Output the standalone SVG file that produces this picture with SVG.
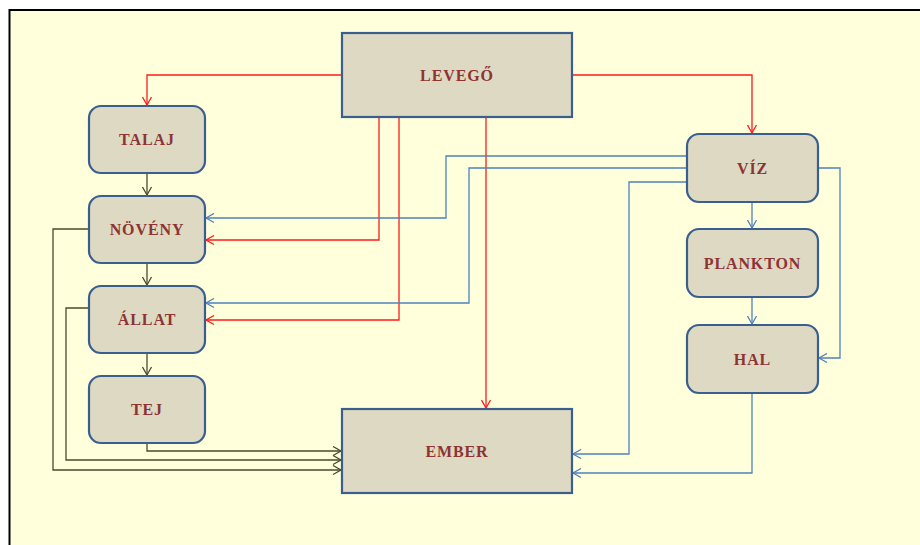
<svg xmlns="http://www.w3.org/2000/svg" width="920" height="545" viewBox="0 0 920 545">
<style>
.box{fill:#DDD9C3;stroke:#3A5F8E;stroke-width:2.2}
.lbl{font-family:"Liberation Serif","Times New Roman",serif;font-weight:bold;font-size:16px;fill:#8E3333;text-anchor:middle;letter-spacing:0.9px}
.r{fill:none;stroke:#FF1A1A;stroke-width:1.3}
.b{fill:none;stroke:#4F81BD;stroke-width:1.3}
.o{fill:none;stroke:#4A4A2E;stroke-width:1.3}
</style>
<defs>
<marker id="ar" markerWidth="11" markerHeight="11" refX="9" refY="5.5" orient="auto" markerUnits="userSpaceOnUse"><path d="M1,1 L9,5.5 L1,10" fill="none" stroke="#FF1A1A" stroke-width="1.3"/></marker>
<marker id="ab" markerWidth="11" markerHeight="11" refX="9" refY="5.5" orient="auto" markerUnits="userSpaceOnUse"><path d="M1,1 L9,5.5 L1,10" fill="none" stroke="#4F81BD" stroke-width="1.3"/></marker>
<marker id="ao" markerWidth="11" markerHeight="11" refX="9" refY="5.5" orient="auto" markerUnits="userSpaceOnUse"><path d="M1,1 L9,5.5 L1,10" fill="none" stroke="#4A4A2E" stroke-width="1.3"/></marker>
</defs>
<rect x="0" y="0" width="920" height="545" fill="#FFFFFF"/>
<rect x="9.5" y="10" width="912" height="540" fill="#FFFFDC" stroke="#000" stroke-width="2"/>
<g id="connectors">
<path class="r" d="M342,75 H147 V105" marker-end="url(#ar)"/>
<path class="r" d="M572,75 H752 V133" marker-end="url(#ar)"/>
<path class="r" d="M379,117 V240 H206" marker-end="url(#ar)"/>
<path class="r" d="M399,117 V320 H206" marker-end="url(#ar)"/>
<path class="r" d="M486,117 V408" marker-end="url(#ar)"/>
<path class="b" d="M687,156 H446 V218 H206" marker-end="url(#ab)"/>
<path class="b" d="M687,168 H469 V303 H206" marker-end="url(#ab)"/>
<path class="b" d="M687,182 H629 V454 H573" marker-end="url(#ab)"/>
<path class="b" d="M818,168 H840 V358 H819" marker-end="url(#ab)"/>
<path class="b" d="M752,202 V228" marker-end="url(#ab)"/>
<path class="b" d="M752,297 V324" marker-end="url(#ab)"/>
<path class="b" d="M752,393 V473 H573" marker-end="url(#ab)"/>
<path class="o" d="M147,173 V195" marker-end="url(#ao)"/>
<path class="o" d="M147,263 V285" marker-end="url(#ao)"/>
<path class="o" d="M147,353 V375" marker-end="url(#ao)"/>
<path class="o" d="M147,443 V451 H341" marker-end="url(#ao)"/>
<path class="o" d="M89,308 H66 V460 H341" marker-end="url(#ao)"/>
<path class="o" d="M89,229 H53 V470 H341" marker-end="url(#ao)"/>
</g>
<g id="levego"><rect class="box" x="342" y="33" width="230" height="84"/><text class="lbl" x="457" y="80.5">LEVEGŐ</text></g>
<g id="talaj"><rect class="box" x="89" y="106" width="116" height="67" rx="12"/><text class="lbl" x="147" y="145">TALAJ</text></g>
<g id="noveny"><rect class="box" x="89" y="196" width="116" height="67" rx="12"/><text class="lbl" x="147" y="235">NÖVÉNY</text></g>
<g id="allat"><rect class="box" x="89" y="286" width="116" height="67" rx="12"/><text class="lbl" x="147" y="325">ÁLLAT</text></g>
<g id="tej"><rect class="box" x="89" y="376" width="116" height="67" rx="12"/><text class="lbl" x="147" y="415">TEJ</text></g>
<g id="ember"><rect class="box" x="342" y="409" width="230" height="84"/><text class="lbl" x="457" y="457">EMBER</text></g>
<g id="viz"><rect class="box" x="687" y="134" width="131" height="68" rx="12"/><text class="lbl" x="752.5" y="173.5">VÍZ</text></g>
<g id="plankton"><rect class="box" x="687" y="229" width="131" height="68" rx="12"/><text class="lbl" x="752.5" y="268.5">PLANKTON</text></g>
<g id="hal"><rect class="box" x="687" y="325" width="131" height="68" rx="12"/><text class="lbl" x="752.5" y="364.5">HAL</text></g>
</svg>
